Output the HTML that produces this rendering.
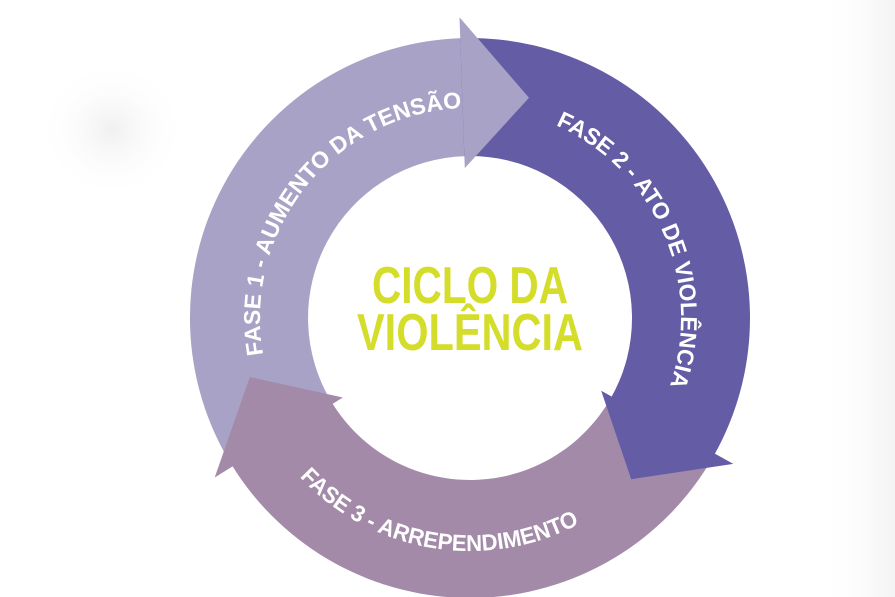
<!DOCTYPE html>
<html><head><meta charset="utf-8"><style>
html,body{margin:0;padding:0;background:#fff;}
svg{display:block;}
text{font-family:"Liberation Sans Narrow","Liberation Sans",sans-serif;font-weight:bold;}
</style></head><body>
<svg id="s" width="895" height="597" viewBox="0 0 895 597" xmlns="http://www.w3.org/2000/svg">
<defs>
<radialGradient id="blob" cx="0.5" cy="0.5" r="0.5"><stop offset="0" stop-color="#f0f0f0"/><stop offset="1" stop-color="#fff" stop-opacity="0"/></radialGradient>
<linearGradient id="edge" x1="0" x2="1"><stop offset="0" stop-color="#fff" stop-opacity="0"/><stop offset="1" stop-color="#f3f3f3"/></linearGradient>
</defs>
<rect width="895" height="597" fill="#fff"/>
<ellipse cx="112" cy="130" rx="75" ry="70" fill="url(#blob)"/>
<rect x="820" y="0" width="75" height="597" fill="url(#edge)"/>
<g id="g"></g>
</svg>
<script>
var cx=470,cy=318,R=280,r=162;
function P(a,rad){a=a*Math.PI/180;return [(cx+rad*Math.cos(a)).toFixed(1),(cy+rad*Math.sin(a)).toFixed(1)];}
function body(a1,a2,col){
 var o1=P(a1,R),o2=P(a2,R),i2=P(a2,r),i1=P(a1,r);var large=(a2-a1)>180?1:0;
 return '<path fill="'+col+'" d="M'+o1+' A'+R+' '+R+' 0 '+large+' 1 '+o2+' L'+i2+' A'+r+' '+r+' 0 '+large+' 0 '+i1+' Z"/>';}
function head(ab,at,col){var a=P(ab,301),b=P(ab,150),t=P(at,228);
 return '<path fill="'+col+'" d="M'+a+' L'+t+' L'+b+' Z"/>';}
function arcPath(id,a1,a2,rad,sweep){var p1=P(a1,rad),p2=P(a2,rad);
 return '<path id="'+id+'" fill="none" d="M'+p1+' A'+rad+' '+rad+' 0 0 '+sweep+' '+p2+'"/>';}
var c1='#a8a3c6',c2='#655ca6',c3='#a28aa8';
var h='';
h+=body(148,268.5,c1)+body(-92,29.5,c3).replace(c3,c2)+body(29.5,148.5,c3);
h+=head(-92,-75,c1)+head(29,45,c2)+head(148,165,c3);
h+=arcPath('t1',170,268,210,1)+arcPath('t2',-66,20,211,1)+arcPath('t3',137,60,233,0);
h+='<text fill="#fff" font-size="23"><textPath href="#t1" textLength="358" lengthAdjust="spacingAndGlyphs">FASE 1 - AUMENTO DA TENSÃO</textPath></text>';
h+='<text fill="#fff" font-size="23"><textPath href="#t2" textLength="312" lengthAdjust="spacingAndGlyphs">FASE 2 - ATO DE VIOLÊNCIA</textPath></text>';
h+='<text fill="#fff" font-size="23"><textPath href="#t3" textLength="305" lengthAdjust="spacingAndGlyphs">FASE 3 - ARREPENDIMENTO</textPath></text>';
h+='<text fill="#d4dd2a" font-size="52" x="372" y="303" textLength="196" lengthAdjust="spacingAndGlyphs">CICLO DA</text>';
h+='<text fill="#d4dd2a" font-size="52" x="357" y="350" textLength="226" lengthAdjust="spacingAndGlyphs">VIOLÊNCIA</text>';
document.getElementById('g').innerHTML=h;
</script>
</body></html>
